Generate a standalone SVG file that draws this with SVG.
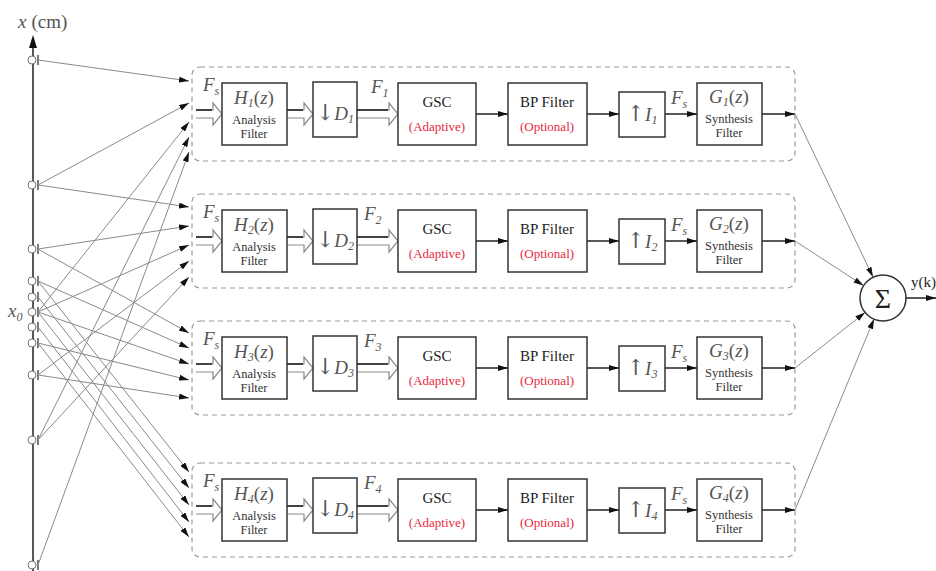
<svg xmlns="http://www.w3.org/2000/svg" width="936" height="571" viewBox="0 0 936 571">
<defs>
<style>
.box{fill:#fff;stroke:#333;stroke-width:1.5}
.band{fill:none;stroke:#9a9a9a;stroke-width:1.2;stroke-dasharray:5 4}
.mic{fill:#fff;stroke:#777;stroke-width:1}
.tick{stroke:#333;stroke-width:1.3}
.feed{stroke:#8a8a8a;stroke-width:1;fill:none;marker-end:url(#ah)}
.flow{stroke:#222;stroke-width:1.5;fill:none;marker-end:url(#ah)}
.hollow{fill:#fff;stroke:#8a8a8a;stroke-width:1.2}
.hdark{stroke:#222;stroke-width:1.6}
.math{font-family:"Liberation Serif","DejaVu Serif","Times New Roman",serif;font-style:italic;fill:#555;font-size:19px}
.up{font-style:normal}
.sub{font-size:12px}
.lbl{font-family:"Liberation Serif","DejaVu Serif","Times New Roman",serif;fill:#222;font-size:15px;text-anchor:middle}
.red{fill:#e8283c;font-size:13px}
.small{font-family:"Liberation Serif","DejaVu Serif","Times New Roman",serif;fill:#333;font-size:12.5px;text-anchor:middle}
.arw{font-family:"DejaVu Serif","Liberation Serif",serif;font-style:normal;fill:#555;font-size:22px}
</style>
<marker id="ah" viewBox="0 0 10 6" refX="10" refY="3" markerWidth="10" markerHeight="6" markerUnits="userSpaceOnUse" orient="auto"><path d="M0,0 L10,3 L0,6 z" fill="#111"/></marker>
</defs>
<rect width="936" height="571" fill="#fff"/>

<g id="axis">
<line x1="33" y1="571" x2="33" y2="40" stroke="#222" stroke-width="1.5"/>
<path d="M29,48 L33,35 L37,48 z" fill="#111"/>
<text x="18" y="28" class="math">x<tspan class="up" dx="5">(cm)</tspan></text>
<text x="8" y="317" class="math">x<tspan class="sub" dy="4">0</tspan></text>
</g>

<g id="mics">
<g id="mic60"><circle cx="32" cy="60" r="4" class="mic"/><line x1="38" y1="55" x2="38" y2="65" class="tick"/></g>
<g id="mic185"><circle cx="32" cy="185" r="4" class="mic"/><line x1="38" y1="180" x2="38" y2="190" class="tick"/></g>
<g id="mic249"><circle cx="32" cy="249" r="4" class="mic"/><line x1="38" y1="244" x2="38" y2="254" class="tick"/></g>
<g id="mic281"><circle cx="32" cy="281" r="4" class="mic"/><line x1="38" y1="276" x2="38" y2="286" class="tick"/></g>
<g id="mic297"><circle cx="32" cy="297" r="4" class="mic"/><line x1="38" y1="292" x2="38" y2="302" class="tick"/></g>
<g id="mic312"><circle cx="32" cy="312" r="4" class="mic"/><line x1="38" y1="307" x2="38" y2="317" class="tick"/></g>
<g id="mic327"><circle cx="32" cy="327" r="4" class="mic"/><line x1="38" y1="322" x2="38" y2="332" class="tick"/></g>
<g id="mic343"><circle cx="32" cy="343" r="4" class="mic"/><line x1="38" y1="338" x2="38" y2="348" class="tick"/></g>
<g id="mic375"><circle cx="32" cy="375" r="4" class="mic"/><line x1="38" y1="370" x2="38" y2="380" class="tick"/></g>
<g id="mic440"><circle cx="32" cy="440" r="4" class="mic"/><line x1="38" y1="435" x2="38" y2="445" class="tick"/></g>
<g id="mic565"><circle cx="32" cy="565" r="4" class="mic"/><line x1="38" y1="560" x2="38" y2="570" class="tick"/></g>
</g>

<g id="bands">
<rect x="192" y="67" width="603" height="94" rx="8" class="band"/>
<rect x="192" y="194" width="603" height="94" rx="8" class="band"/>
<rect x="192" y="321" width="603" height="94" rx="8" class="band"/>
<rect x="192" y="463" width="603" height="94" rx="8" class="band"/>
</g>

<g id="connectors">
<g id="feeds">
<line x1="38" y1="60" x2="189" y2="81" class="feed"/>
<line x1="38" y1="185" x2="189" y2="103" class="feed"/>
<line x1="38" y1="312" x2="189" y2="122" class="feed"/>
<line x1="38" y1="440" x2="189" y2="137" class="feed"/>
<line x1="38" y1="565" x2="189" y2="152" class="feed"/>
<line x1="38" y1="185" x2="189" y2="207" class="feed"/>
<line x1="38" y1="249" x2="189" y2="226" class="feed"/>
<line x1="38" y1="312" x2="189" y2="245" class="feed"/>
<line x1="38" y1="375" x2="189" y2="261" class="feed"/>
<line x1="38" y1="440" x2="189" y2="277" class="feed"/>
<line x1="38" y1="249" x2="189" y2="333" class="feed"/>
<line x1="38" y1="281" x2="189" y2="348" class="feed"/>
<line x1="38" y1="312" x2="189" y2="364" class="feed"/>
<line x1="38" y1="343" x2="189" y2="380" class="feed"/>
<line x1="38" y1="375" x2="189" y2="398" class="feed"/>
<line x1="38" y1="281" x2="189" y2="472" class="feed"/>
<line x1="38" y1="297" x2="189" y2="488" class="feed"/>
<line x1="38" y1="312" x2="189" y2="505" class="feed"/>
<line x1="38" y1="327" x2="189" y2="522" class="feed"/>
<line x1="38" y1="343" x2="189" y2="537" class="feed"/>
</g>
<g id="chain1">
<path d="M196,110 H213 V103 L222,114 L213,125 V118 H196" class="hollow"/><line x1="196" y1="110" x2="212" y2="110" class="hdark"/>
<path d="M287,110 H304 V103 L313,114 L304,125 V118 H287" class="hollow"/><line x1="287" y1="110" x2="303" y2="110" class="hdark"/>
<path d="M357,110 H389 V103 L398,114 L389,125 V118 H357" class="hollow"/><line x1="357" y1="110" x2="388" y2="110" class="hdark"/>
<line x1="476" y1="114" x2="508" y2="114" class="flow"/>
<line x1="587" y1="114" x2="619" y2="114" class="flow"/>
<line x1="665" y1="114" x2="697" y2="114" class="flow"/>
<line x1="762" y1="114" x2="795" y2="114" class="flow"/>
</g>
<g id="chain2" transform="translate(0,127)">
<path d="M196,110 H213 V103 L222,114 L213,125 V118 H196" class="hollow"/><line x1="196" y1="110" x2="212" y2="110" class="hdark"/>
<path d="M287,110 H304 V103 L313,114 L304,125 V118 H287" class="hollow"/><line x1="287" y1="110" x2="303" y2="110" class="hdark"/>
<path d="M357,110 H389 V103 L398,114 L389,125 V118 H357" class="hollow"/><line x1="357" y1="110" x2="388" y2="110" class="hdark"/>
<line x1="476" y1="114" x2="508" y2="114" class="flow"/>
<line x1="587" y1="114" x2="619" y2="114" class="flow"/>
<line x1="665" y1="114" x2="697" y2="114" class="flow"/>
<line x1="762" y1="114" x2="795" y2="114" class="flow"/>
</g>
<g id="chain3" transform="translate(0,254)">
<path d="M196,110 H213 V103 L222,114 L213,125 V118 H196" class="hollow"/><line x1="196" y1="110" x2="212" y2="110" class="hdark"/>
<path d="M287,110 H304 V103 L313,114 L304,125 V118 H287" class="hollow"/><line x1="287" y1="110" x2="303" y2="110" class="hdark"/>
<path d="M357,110 H389 V103 L398,114 L389,125 V118 H357" class="hollow"/><line x1="357" y1="110" x2="388" y2="110" class="hdark"/>
<line x1="476" y1="114" x2="508" y2="114" class="flow"/>
<line x1="587" y1="114" x2="619" y2="114" class="flow"/>
<line x1="665" y1="114" x2="697" y2="114" class="flow"/>
<line x1="762" y1="114" x2="795" y2="114" class="flow"/>
</g>
<g id="chain4" transform="translate(0,396)">
<path d="M196,110 H213 V103 L222,114 L213,125 V118 H196" class="hollow"/><line x1="196" y1="110" x2="212" y2="110" class="hdark"/>
<path d="M287,110 H304 V103 L313,114 L304,125 V118 H287" class="hollow"/><line x1="287" y1="110" x2="303" y2="110" class="hdark"/>
<path d="M357,110 H389 V103 L398,114 L389,125 V118 H357" class="hollow"/><line x1="357" y1="110" x2="388" y2="110" class="hdark"/>
<line x1="476" y1="114" x2="508" y2="114" class="flow"/>
<line x1="587" y1="114" x2="619" y2="114" class="flow"/>
<line x1="665" y1="114" x2="697" y2="114" class="flow"/>
<line x1="762" y1="114" x2="795" y2="114" class="flow"/>
</g>
<g id="tosum">
<line x1="795" y1="114" x2="873" y2="277" class="feed" stroke="#666"/>
<line x1="795" y1="241" x2="863.5" y2="285.5" class="feed" stroke="#666"/>
<line x1="795" y1="368" x2="865" y2="312.5" class="feed" stroke="#666"/>
<line x1="795" y1="510" x2="874" y2="319" class="feed" stroke="#666"/>
<line x1="906" y1="298" x2="936" y2="298" class="flow"/>
</g>
</g>

<g id="band1">
<text x="203" y="91" class="math">F<tspan class="sub" dy="4">s</tspan></text>
<text x="371" y="93" class="math">F<tspan class="sub" dy="4">1</tspan></text>
<text x="671" y="104" class="math">F<tspan class="sub" dy="4">s</tspan></text>
<g id="h1"><rect x="222" y="83" width="65" height="62" class="box"/><text x="254" y="104" class="math" text-anchor="middle">H<tspan class="sub" dy="3">1</tspan><tspan class="up" dy="-3">(</tspan>z<tspan class="up">)</tspan></text><text x="254" y="124" class="small">Analysis</text><text x="254" y="138" class="small">Filter</text></g>
<g id="d1"><rect x="313" y="82" width="44" height="55" class="box"/><text x="335" y="120" class="math" text-anchor="middle"><tspan class="arw">↓</tspan>D<tspan class="sub" dy="3">1</tspan></text></g>
<g id="gsc1"><rect x="398" y="83" width="78" height="62" class="box"/><text x="437" y="107" class="lbl">GSC</text><text x="437" y="131" class="lbl red">(Adaptive)</text></g>
<g id="bp1"><rect x="508" y="83" width="79" height="62" class="box"/><text x="547" y="107" class="lbl">BP Filter</text><text x="547" y="131" class="lbl red">(Optional)</text></g>
<g id="i1"><rect x="619" y="92" width="46" height="45" class="box"/><text x="642" y="121" class="math" text-anchor="middle"><tspan class="arw">↑</tspan>I<tspan class="sub" dy="3">1</tspan></text></g>
<g id="g1"><rect x="697" y="83" width="65" height="62" class="box"/><text x="729" y="103" class="math" text-anchor="middle">G<tspan class="sub" dy="3">1</tspan><tspan class="up" dy="-3">(</tspan>z<tspan class="up">)</tspan></text><text x="729" y="123" class="small">Synthesis</text><text x="729" y="137" class="small">Filter</text></g>
</g>

<g id="band2" transform="translate(0,127)">
<text x="203" y="91" class="math">F<tspan class="sub" dy="4">s</tspan></text>
<text x="364" y="93" class="math">F<tspan class="sub" dy="4">2</tspan></text>
<text x="671" y="104" class="math">F<tspan class="sub" dy="4">s</tspan></text>
<g id="h2"><rect x="222" y="83" width="65" height="62" class="box"/><text x="254" y="104" class="math" text-anchor="middle">H<tspan class="sub" dy="3">2</tspan><tspan class="up" dy="-3">(</tspan>z<tspan class="up">)</tspan></text><text x="254" y="124" class="small">Analysis</text><text x="254" y="138" class="small">Filter</text></g>
<g id="d2"><rect x="313" y="82" width="44" height="55" class="box"/><text x="335" y="120" class="math" text-anchor="middle"><tspan class="arw">↓</tspan>D<tspan class="sub" dy="3">2</tspan></text></g>
<g id="gsc2"><rect x="398" y="83" width="78" height="62" class="box"/><text x="437" y="107" class="lbl">GSC</text><text x="437" y="131" class="lbl red">(Adaptive)</text></g>
<g id="bp2"><rect x="508" y="83" width="79" height="62" class="box"/><text x="547" y="107" class="lbl">BP Filter</text><text x="547" y="131" class="lbl red">(Optional)</text></g>
<g id="i2"><rect x="619" y="92" width="46" height="45" class="box"/><text x="642" y="121" class="math" text-anchor="middle"><tspan class="arw">↑</tspan>I<tspan class="sub" dy="3">2</tspan></text></g>
<g id="g2"><rect x="697" y="83" width="65" height="62" class="box"/><text x="729" y="103" class="math" text-anchor="middle">G<tspan class="sub" dy="3">2</tspan><tspan class="up" dy="-3">(</tspan>z<tspan class="up">)</tspan></text><text x="729" y="123" class="small">Synthesis</text><text x="729" y="137" class="small">Filter</text></g>
</g>

<g id="band3" transform="translate(0,254)">
<text x="203" y="91" class="math">F<tspan class="sub" dy="4">s</tspan></text>
<text x="364" y="93" class="math">F<tspan class="sub" dy="4">3</tspan></text>
<text x="671" y="104" class="math">F<tspan class="sub" dy="4">s</tspan></text>
<g id="h3"><rect x="222" y="83" width="65" height="62" class="box"/><text x="254" y="104" class="math" text-anchor="middle">H<tspan class="sub" dy="3">3</tspan><tspan class="up" dy="-3">(</tspan>z<tspan class="up">)</tspan></text><text x="254" y="124" class="small">Analysis</text><text x="254" y="138" class="small">Filter</text></g>
<g id="d3"><rect x="313" y="82" width="44" height="55" class="box"/><text x="335" y="120" class="math" text-anchor="middle"><tspan class="arw">↓</tspan>D<tspan class="sub" dy="3">3</tspan></text></g>
<g id="gsc3"><rect x="398" y="83" width="78" height="62" class="box"/><text x="437" y="107" class="lbl">GSC</text><text x="437" y="131" class="lbl red">(Adaptive)</text></g>
<g id="bp3"><rect x="508" y="83" width="79" height="62" class="box"/><text x="547" y="107" class="lbl">BP Filter</text><text x="547" y="131" class="lbl red">(Optional)</text></g>
<g id="i3"><rect x="619" y="92" width="46" height="45" class="box"/><text x="642" y="121" class="math" text-anchor="middle"><tspan class="arw">↑</tspan>I<tspan class="sub" dy="3">3</tspan></text></g>
<g id="g3"><rect x="697" y="83" width="65" height="62" class="box"/><text x="729" y="103" class="math" text-anchor="middle">G<tspan class="sub" dy="3">3</tspan><tspan class="up" dy="-3">(</tspan>z<tspan class="up">)</tspan></text><text x="729" y="123" class="small">Synthesis</text><text x="729" y="137" class="small">Filter</text></g>
</g>

<g id="band4" transform="translate(0,396)">
<text x="203" y="91" class="math">F<tspan class="sub" dy="4">s</tspan></text>
<text x="364" y="93" class="math">F<tspan class="sub" dy="4">4</tspan></text>
<text x="671" y="104" class="math">F<tspan class="sub" dy="4">s</tspan></text>
<g id="h4"><rect x="222" y="83" width="65" height="62" class="box"/><text x="254" y="104" class="math" text-anchor="middle">H<tspan class="sub" dy="3">4</tspan><tspan class="up" dy="-3">(</tspan>z<tspan class="up">)</tspan></text><text x="254" y="124" class="small">Analysis</text><text x="254" y="138" class="small">Filter</text></g>
<g id="d4"><rect x="313" y="82" width="44" height="55" class="box"/><text x="335" y="120" class="math" text-anchor="middle"><tspan class="arw">↓</tspan>D<tspan class="sub" dy="3">4</tspan></text></g>
<g id="gsc4"><rect x="398" y="83" width="78" height="62" class="box"/><text x="437" y="107" class="lbl">GSC</text><text x="437" y="131" class="lbl red">(Adaptive)</text></g>
<g id="bp4"><rect x="508" y="83" width="79" height="62" class="box"/><text x="547" y="107" class="lbl">BP Filter</text><text x="547" y="131" class="lbl red">(Optional)</text></g>
<g id="i4"><rect x="619" y="92" width="46" height="45" class="box"/><text x="642" y="121" class="math" text-anchor="middle"><tspan class="arw">↑</tspan>I<tspan class="sub" dy="3">4</tspan></text></g>
<g id="g4"><rect x="697" y="83" width="65" height="62" class="box"/><text x="729" y="103" class="math" text-anchor="middle">G<tspan class="sub" dy="3">4</tspan><tspan class="up" dy="-3">(</tspan>z<tspan class="up">)</tspan></text><text x="729" y="123" class="small">Synthesis</text><text x="729" y="137" class="small">Filter</text></g>
</g>

<g id="sum">
<circle cx="883" cy="298" r="23" fill="#fff" stroke="#333" stroke-width="1.5"/>
<text x="883" y="308" font-family="Liberation Serif, DejaVu Serif, serif" font-size="28" fill="#222" text-anchor="middle">Σ</text>
<text x="911" y="287" font-family="Liberation Serif, DejaVu Serif, serif" font-size="15" fill="#222">y(k)</text>
</g>
</svg>
